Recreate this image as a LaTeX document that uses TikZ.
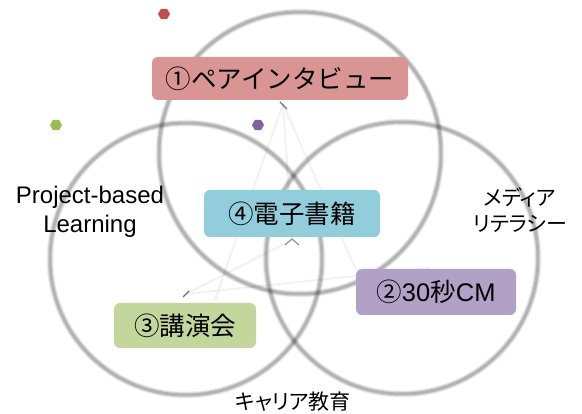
\documentclass[tikz,border=0pt]{standalone}
\usepackage{fontspec}
\usetikzlibrary{shapes.geometric}
\setmainfont{Liberation Sans}
\setsansfont{Liberation Sans}
\newfontfamily\jp{Noto Sans CJK JP}
\newfontfamily\jpp[RawFeature=+palt]{Noto Sans CJK JP}
\definecolor{cRed}{HTML}{D99594}
\definecolor{cBlue}{HTML}{92CDDC}
\definecolor{cPurple}{HTML}{B2A1C7}
\definecolor{cGreen}{HTML}{C3D69B}
\definecolor{dRed}{HTML}{C0504D}
\definecolor{dGreen}{HTML}{9BBB59}
\definecolor{dPurple}{HTML}{8064A2}
\tikzset{
  ring/.style={draw=black, line width=#1},
  boxnode/.style={rounded corners=6pt, inner sep=0pt, font=\jp\fontsize{25.5}{29}\selectfont, text=black},
  label/.style={align=center, text=black},
  dot/.style={regular polygon, regular polygon sides=6, inner sep=0pt, minimum size=12pt},
  faint/.style={draw=black, opacity=0.05, line width=2pt},
  tick/.style={draw=black!55, line width=1.3pt}
}
\begin{document}
\begin{tikzpicture}[x=1pt, y=-1pt]
\useasboundingbox (0,0) rectangle (582,414);
\fill[white] (0,0) rectangle (582,414);
% circles (soft gray strokes)
\foreach \w/\o in {7pt/0.06, 5pt/0.1, 3pt/0.16}{
  \draw[ring=\w, opacity=\o] (300,153) circle (141);
  \draw[ring=\w, opacity=\o] (186,259) circle (136);
  \draw[ring=\w, opacity=\o] (402,258) circle (136);
}
% faint construction lines
\coordinate (T) at (283,104);
\coordinate (BL) at (186,294);
\coordinate (R) at (430,268);
\coordinate (C) at (292,240);
\coordinate (Rb) at (356,270);
\coordinate (Lb) at (215,300);
\draw[faint] (T) -- (Lb);
\draw[faint] (T) -- (Rb);
\draw[faint] (T) -- (C);
\draw[faint] (BL) -- (R);
\draw[faint] (BL) -- (C);
% ticks and chevron
\coordinate (t1a) at (280,102); \coordinate (t1b) at (287,109);
\draw[tick] (t1a) -- (t1b);
\coordinate (t2a) at (183,297); \coordinate (t2b) at (189,291);
\draw[tick] (t2a) -- (t2b);
\coordinate (c1) at (285,245); \coordinate (c2) at (292,239); \coordinate (c3) at (299,245);
\draw[draw=black!40, line width=1.3pt] (c1) -- (c2) -- (c3);
% dots
\node[dot, fill=dRed] (d1) at (164,14) {};
\node[dot, fill=dGreen] (d2) at (56,125) {};
\node[dot, fill=dPurple] (d3) at (258,125) {};
% boxes
\node[boxnode, fill=cRed, minimum width=256pt, minimum height=43pt] (b1) at (280,78.5) {①ペアインタビュー\hspace{8pt}};
\node[boxnode, fill=cBlue, minimum width=176pt, minimum height=47pt] (b4) at (292,213.5) {④電子書籍\hspace{6pt}};
\node[boxnode, fill=cPurple, minimum width=160pt, minimum height=46pt] (b2) at (436,292) {②{\sffamily 30}秒{\sffamily CM}\hspace{14pt}};
\node[boxnode, fill=cGreen, minimum width=142pt, minimum height=45pt] (b3) at (185,325.5) {③講演会\hspace{12pt}};
% labels
\node[label, font=\fontsize{24}{29}\selectfont] (pbl) at (90,212) {Project-based\\Learning};
\node[label, font=\jpp\fontsize{21}{26}\selectfont] (ml) at (520,210) {メディア\\リテラシー};
\node[label, font=\jpp\fontsize{21}{26}\selectfont] (ce) at (293,402) {キャリア教育};
\end{tikzpicture}
\end{document}
